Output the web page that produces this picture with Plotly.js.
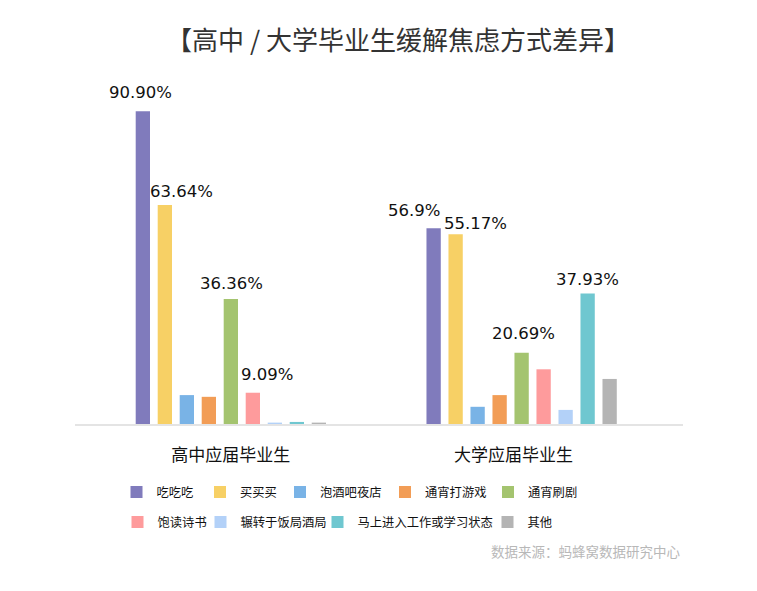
<!DOCTYPE html>
<html>
<head>
<meta charset="utf-8">
<script src="https://cdn.plot.ly/plotly-3.0.1.min.js"></script>
<style>html,body{margin:0;padding:0;background:#fff;}#chart{width:757px;height:591px;}</style>
</head>
<body>
<div id="chart"></div>
<script>
// ---- data ----
const categories = ['高中应届毕业生', '大学应届毕业生'];
const seriesNames = ['吃吃吃', '买买买', '泡酒吧夜店', '通宵打游戏', '通宵刷剧', '饱读诗书', '辗转于饭局酒局', '马上进入工作或学习状态', '其他'];
const highSchool = [90.90, 63.64, 8.4, 7.9, 36.36, 9.09, 0.4, 0.6, 0.4];
const university = [56.9, 55.17, 5.0, 8.4, 20.69, 15.9, 4.1, 37.93, 13.1];
const highSchoolLabels = ['90.90%', '63.64%', null, null, '36.36%', '9.09%', null, null, null];
const universityLabels = ['56.9%', '55.17%', null, null, '20.69%', null, null, '37.93%', null];
const colors = ['#807bbc', '#f7d065', '#79b3e6', '#f29d56', '#a4c46f', '#fe9b9c', '#b3d1f8', '#6fc7d0', '#b4b4b4'];

// ---- label nudges (pixels) ----
const hsNudge = [[-2, 19], [17, 14], null, null, [1, 15], [14, 18], null, null, null];
const uniNudge = [[-20, 18], [20, 11], null, null, [2, 19], null, null, [0, 14], null];

// ---- legend entry placement (pixels: [marker left, text start, row centre]) ----
const legendPos = [
  [136, 152, 492], [218, 237, 492], [300, 315, 492], [403, 422, 492], [507, 524, 492],
  [135, 155, 522], [218, 238, 522], [338, 352, 522], [507, 523, 522]
];

const bargap = 0.319;
const slot = (1 - bargap) / seriesNames.length;
const legendKey = i => (i === 0 ? 'legend' : 'legend' + (i + 1));

const traces = seriesNames.map((name, i) => ({
  type: 'bar',
  name: name,
  x: categories,
  y: [highSchool[i], university[i]],
  marker: {color: colors[i]},
  legend: legendKey(i),
  hoverinfo: 'skip'
}));

const annotations = [];
[[highSchool, highSchoolLabels, hsNudge], [university, universityLabels, uniNudge]].forEach((grp, c) => {
  const [vals, labs, nud] = grp;
  labs.forEach((t, i) => {
    if (!t) return;
    annotations.push({
      x: c + (i - (seriesNames.length - 1) / 2) * slot,
      y: vals[i],
      xref: 'x', yref: 'y',
      text: t,
      showarrow: false,
      xanchor: 'center', yanchor: 'middle',
      xshift: nud[i][0], yshift: nud[i][1],
      font: {family: 'DejaVu Sans, sans-serif', size: 16.5, color: '#111'}
    });
  });
});

const plotTop = 80, plotBottom = 424;
annotations.push({
  text: '数据来源：蚂蜂窝数据研究中心',
  xref: 'paper', x: 1, xanchor: 'right',
  yref: 'paper', y: (plotBottom - 551) / (plotBottom - plotTop), yanchor: 'middle',
  showarrow: false,
  font: {family: 'Noto Sans CJK SC, sans-serif', size: 13.5, color: '#b8b8b8'}
});

const layout = {
  width: 757, height: 591,
  margin: {l: 75, r: 74, t: plotTop, b: 591 - plotBottom},
  paper_bgcolor: '#fff', plot_bgcolor: '#fff',
  title: {
    text: '【高中 / 大学毕业生缓解焦虑方式差异】',
    xref: 'container', x: 398 / 757, xanchor: 'center',
    yref: 'container', y: 1 - 41 / 591, yanchor: 'middle',
    font: {family: 'Noto Sans CJK SC, sans-serif', size: 26, color: '#333'}
  },
  barmode: 'group',
  bargap: bargap,
  bargroupgap: 0.35,
  xaxis: {
    type: 'category',
    range: [-0.536, 1.555],
    tickmode: 'array',
    tickvals: [0, 1 - 8 / 290.8],
    ticktext: categories,
    showline: true, linecolor: '#e4e4e4', linewidth: 2,
    showgrid: false, zeroline: false, ticks: '',
    ticklabelstandoff: 15,
    tickfont: {family: 'Noto Sans CJK SC, sans-serif', size: 17, color: '#111'},
    fixedrange: true
  },
  yaxis: {
    range: [0, 100],
    visible: false,
    showgrid: false, zeroline: false,
    fixedrange: true
  },
  showlegend: true,
  annotations: annotations
};

legendPos.forEach((p, i) => {
  const mid = (p[0] + p[1]) / 2;
  layout[legendKey(i)] = {
    orientation: 'h',
    xref: 'container', x: (mid - 27.5) / 757, xanchor: 'left',
    yref: 'container', y: 1 - p[2] / 591, yanchor: 'middle',
    font: {family: 'Noto Sans CJK SC, sans-serif', size: 12.3, color: '#111'},
    bgcolor: 'rgba(0,0,0,0)',
    itemclick: false, itemdoubleclick: false
  };
});

Plotly.newPlot('chart', traces, layout, {displayModeBar: false, staticPlot: true});
</script>
</body>
</html>
